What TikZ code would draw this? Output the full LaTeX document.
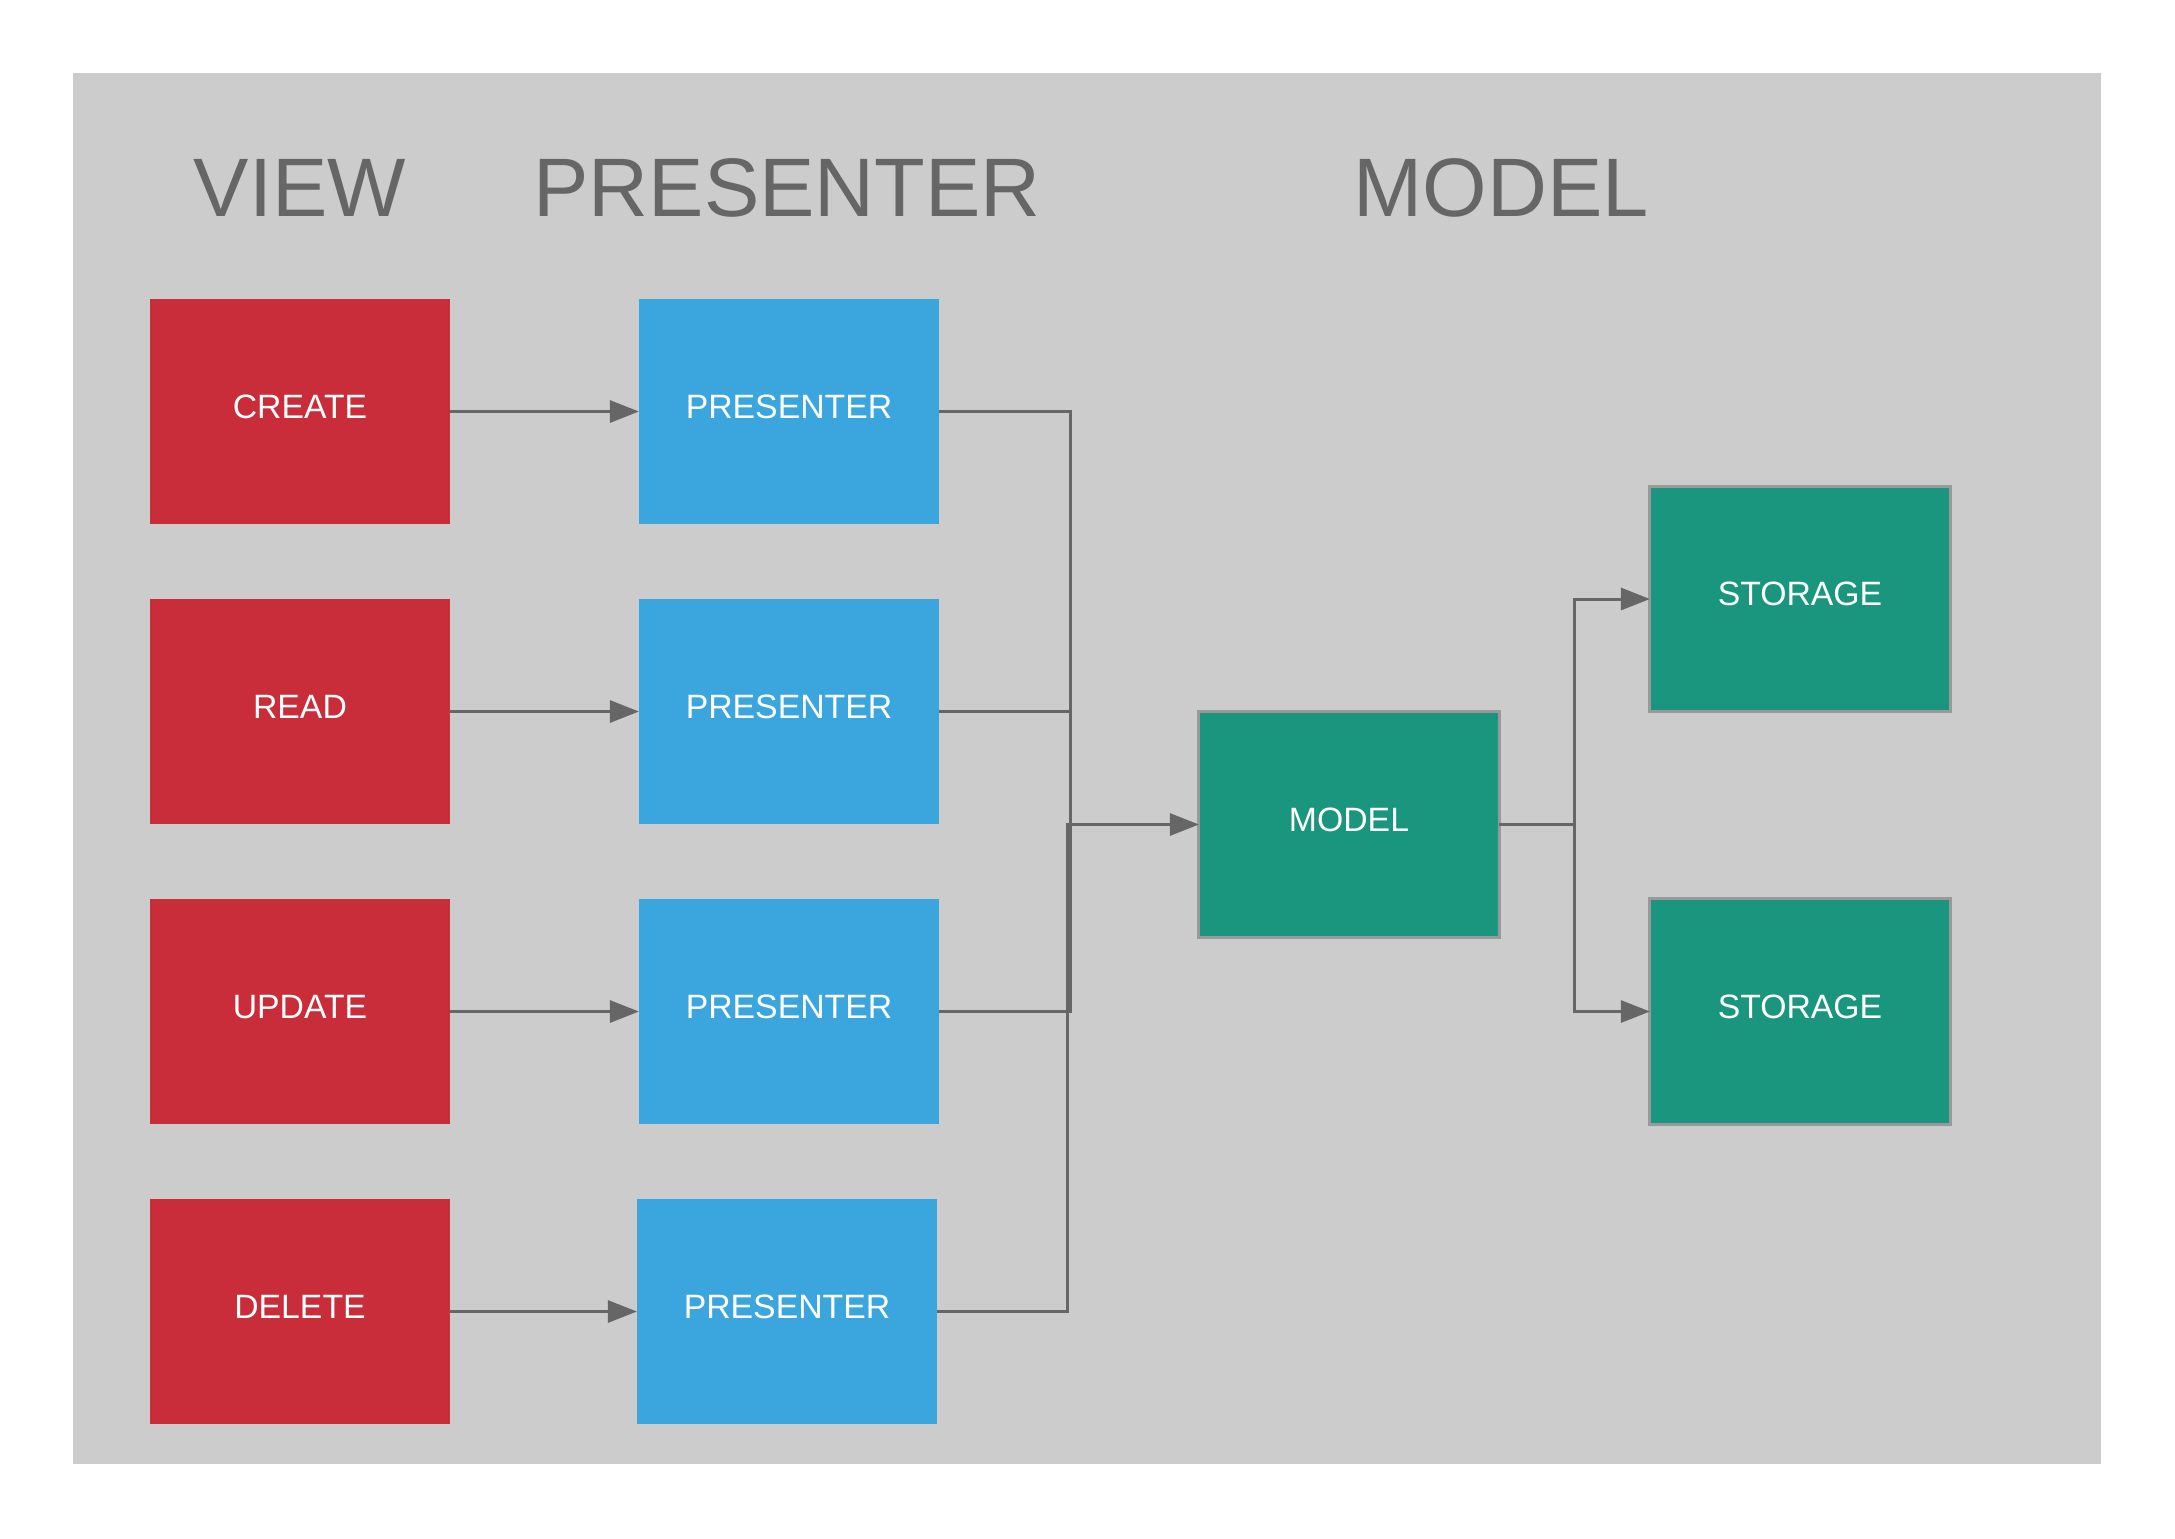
\documentclass[tikz,border=0pt]{standalone}
\usepackage{fontspec}
\setmainfont{Liberation Sans}
\usetikzlibrary{arrows.meta}
\definecolor{bggray}{HTML}{CCCCCC}
\definecolor{txtgray}{HTML}{666666}
\definecolor{viewred}{HTML}{C92D39}
\definecolor{presblue}{HTML}{3BA6DE}
\definecolor{modelteal}{HTML}{1B967E}
\definecolor{bordergray}{HTML}{999999}
\tikzset{
  box/.style={rectangle, inner sep=0pt, outer sep=0pt, minimum width=3cm, minimum height=2.25cm,
    text=white, font=\fontsize{9.6}{11}\selectfont, text depth=0.1cm},
  viewbox/.style={box, fill=viewred},
  presbox/.style={box, fill=presblue},
  modelbox/.style={box, fill=modelteal, draw=bordergray, line width=0.03cm},
  title/.style={text=txtgray, font=\fontsize{23.6}{28}\selectfont, anchor=base, inner sep=0pt},
  conn/.style={draw=txtgray, line width=0.03cm},
  arr/.style={conn, -{Triangle[length=0.29cm, width=0.22cm]}}
}
\begin{document}
\begin{tikzpicture}[x=0.01cm, y=-0.01cm]
\useasboundingbox (0,0) rectangle (2175,1538);
\fill[bggray] (73,73) rectangle (2101,1464);

\node[title] (tview) at (300,216) {VIEW};
\node[title] (tpres) at (787,216) {PRESENTER};
\node[title] (tmodel) at (1501,216) {MODEL};

\node[viewbox] (create) at (300,411.5) {CREATE};
\node[viewbox] (read)   at (300,711.5) {READ};
\node[viewbox] (update) at (300,1011.5) {UPDATE};
\node[viewbox] (delete) at (300,1311.5) {DELETE};

\node[presbox] (p1) at (789,411.5) {PRESENTER};
\node[presbox] (p2) at (789,711.5) {PRESENTER};
\node[presbox] (p3) at (789,1011.5) {PRESENTER};
\node[presbox] (p4) at (787,1311.5) {PRESENTER};

\node[modelbox] (model) at (1349,824.5) {MODEL};
\node[modelbox] (s1) at (1800,599) {STORAGE};
\node[modelbox] (s2) at (1800,1011.5) {STORAGE};

\draw[arr] (create.east) -- (p1.west);
\draw[arr] (read.east) -- (p2.west);
\draw[arr] (update.east) -- (p3.west);
\draw[arr] (delete.east) -- (p4.west);

\coordinate (jA) at (1070,824.5);
\coordinate (jB) at (1067,824.5);
\draw[arr] (p1.east) -| (jA) -- (model.west);
\draw[conn] (p2.east) -- (p2.east -| jA);
\draw[conn] (p3.east) -| (jA);
\draw[conn] (p4.east) -| (jB) -- (jA);

\coordinate (br) at (1574,824.5);
\draw[conn] (model.east) -- (br);
\draw[arr] (br) |- (s1.west);
\draw[arr] (br) |- (s2.west);
\end{tikzpicture}
\end{document}
